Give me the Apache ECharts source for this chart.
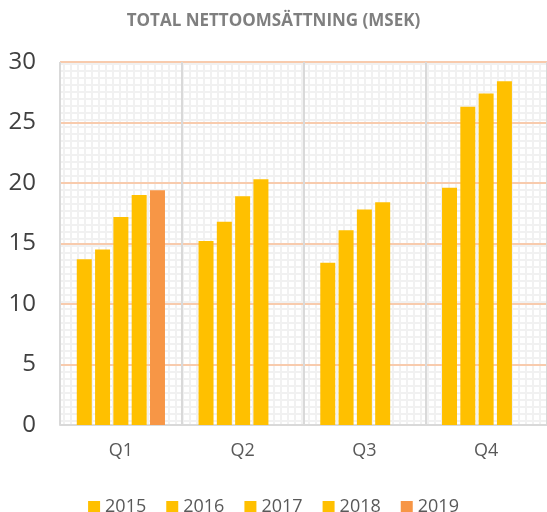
<!DOCTYPE html>
<html>
<head>
<meta charset="utf-8">
<script src="https://cdn.jsdelivr.net/npm/echarts@6/dist/echarts.min.js"></script>
<style>
  html, body { margin: 0; padding: 0; background: #fff; }
  #chart { width: 547px; height: 512px; }
</style>
</head>
<body>
<div id="chart"></div>
<script>
const quarters = ['Q1', 'Q2', 'Q3', 'Q4'];
const years = ['2015', '2016', '2017', '2018', '2019'];
const sales2015 = [13.7, 15.2, 13.4, 19.6];
const sales2016 = [14.5, 16.8, 16.1, 26.3];
const sales2017 = [17.2, 18.9, 17.8, 27.4];
const sales2018 = [19.0, 20.3, 18.4, 28.4];
const sales2019 = [19.4, null, null, null];
const yTicks = [0, 5, 10, 15, 20, 25, 30];

// plaid background like the excel pattern fill
const makePattern = () => {
  const c = document.createElement('canvas');
  c.width = 7; c.height = 7;
  const ctx = c.getContext('2d');
  ctx.fillStyle = '#ffffff';
  ctx.fillRect(0, 0, 7, 7);
  ctx.fillStyle = '#f1f1f1';
  ctx.fillRect(0, 0, 2, 7);
  ctx.fillRect(0, 0, 7, 2);
  return c;
};

const yellow = '#FFC000';
const orange = '#F79646';
const seriesData = [sales2015, sales2016, sales2017, sales2018, sales2019];

const chart = echarts.init(document.getElementById('chart'));
chart.setOption({
  animation: false,
  title: {
    text: 'TOTAL NETTOOMSÄTTNING (MSEK)',
    left: 'center',
    top: 8,
    textStyle: { fontFamily: 'Open Sans', fontWeight: 'bold', fontSize: 17, color: '#7F7F7F' }
  },
  legend: {
    bottom: -9,
    left: 'center',
    itemWidth: 12,
    itemHeight: 12,
    itemGap: 20,
    icon: 'rect',
    textStyle: { fontFamily: 'Open Sans', fontSize: 18, color: '#595959' },
    data: years
  },
  grid: {
    left: 60, right: 0, top: 62, bottom: 87,
    show: true,
    borderWidth: 0,
    backgroundColor: { image: makePattern(), repeat: 'repeat' }
  },
  xAxis: {
    type: 'category',
    data: quarters,
    axisLine: { lineStyle: { color: '#D9D9D9', width: 2 } },
    axisTick: { show: false },
    splitLine: { show: true, lineStyle: { color: '#D9D9D9', width: 2 } },
    axisLabel: { fontFamily: 'Open Sans', fontSize: 18, color: '#595959', margin: 17 }
  },
  yAxis: {
    type: 'value',
    min: yTicks[0],
    max: yTicks[yTicks.length - 1],
    interval: 5,
    axisLine: { show: false },
    axisTick: { show: false },
    splitLine: { lineStyle: { color: '#F8CBAD', width: 2 } },
    axisLabel: { fontFamily: 'Open Sans', fontSize: 24, color: '#404040', margin: 24 }
  },
  series: years.map((y, i) => ({
    name: y,
    type: 'bar',
    data: seriesData[i],
    barWidth: 15,
    barGap: '22%',
    itemStyle: { color: y === '2019' ? orange : yellow }
  }))
});
</script>
</body>
</html>
